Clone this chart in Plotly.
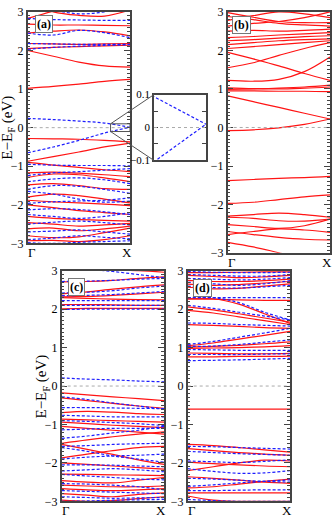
import plotly.graph_objects as go

# k-path sampling (Gamma -> X) used for every band below
K = [0.0, 0.25, 0.5, 0.75, 1.0]

# ---- panel (a) ----
A_red = [
    [3.25, 3.0, 2.91, 2.89, 3.05], [2.83, 3.02, 3.2, 3.3, 3.35],
    [2.68, 2.66, 2.66, 2.65, 2.64], [2.45, 2.5, 2.53, 2.48, 2.38],
    [2.18, 2.17, 2.16, 2.17, 2.18], [2.05, 2.08, 2.1, 2.12, 2.14],
    [2.0, 1.85, 1.7, 1.6, 1.57], [1.02, 1.07, 1.13, 1.2, 1.25],
    [-0.28, -0.29, -0.3, -0.33, -0.37], [-0.87, -0.75, -0.63, -0.5, -0.4],
    [-0.9, -0.97, -1.03, -1.09, -1.14], [-1.17, -1.15, -1.18, -1.22, -1.27],
    [-1.29, -1.2, -1.22, -1.3, -1.4], [-1.48, -1.45, -1.5, -1.58, -1.6],
    [-1.8, -1.72, -1.76, -1.85, -1.95], [-1.88, -1.92, -1.95, -1.98, -2.02],
    [-2.0, -2.07, -2.15, -2.2, -2.25], [-2.3, -2.35, -2.38, -2.4, -2.42],
    [-2.46, -2.5, -2.55, -2.52, -2.48], [-2.62, -2.6, -2.67, -2.62, -2.55],
    [-2.8, -2.85, -2.83, -2.72, -2.6], [-2.93, -2.92, -2.95, -2.9, -2.8],
]
A_blue = [
    [2.83, 2.8, 2.79, 2.78, 2.78], [3.2, 3.05, 2.95, 3.0, 3.15],
    [2.45, 2.4, 2.52, 2.46, 2.33], [2.18, 2.17, 2.16, 2.16, 2.16],
    [2.03, 2.08, 2.11, 2.13, 2.15],
    [-0.95, -0.97, -0.98, -0.98, -0.99], [-1.24, -1.17, -1.14, -1.1, -1.06],
    [-1.4, -1.33, -1.3, -1.35, -1.45], [-1.6, -1.5, -1.52, -1.6, -1.7],
    [-1.65, -1.72, -1.85, -1.93, -1.9], [-1.96, -1.92, -1.9, -1.88, -1.82],
    [-2.13, -2.1, -2.12, -2.18, -2.25], [-2.25, -2.3, -2.35, -2.3, -2.2],
    [-2.5, -2.45, -2.42, -2.46, -2.52], [-2.7, -2.68, -2.65, -2.7, -2.76],
    [-2.9, -2.86, -2.8, -2.84, -2.88], [-2.98, -3.0, -2.97, -2.95, -2.93],
]
A_blue_fermi = [[0.24, 0.21, 0.17, 0.12, 0.01], [-0.65, -0.5, -0.33, -0.14, 0.01]]

# ---- panel (b) ----
B_red = [
    [-0.08, -0.06, -0.01, 0.08, 0.22], [0.82, 0.67, 0.52, 0.37, 0.22],
    [0.95, 0.95, 0.94, 0.94, 0.93], [0.99, 1.0, 1.02, 1.05, 1.1],
    [1.03, 1.01, 1.0, 1.02, 1.05], [1.22, 1.2, 1.25, 1.45, 1.83],
    [1.95, 1.78, 1.6, 1.4, 1.22], [1.55, 1.68, 1.87, 2.05, 2.2],
    [2.05, 2.1, 2.15, 2.2, 2.25], [2.15, 2.2, 2.25, 2.28, 2.3],
    [2.25, 2.28, 2.32, 2.36, 2.38], [2.33, 2.36, 2.4, 2.43, 2.46],
    [2.5, 2.52, 2.5, 2.52, 2.55], [2.63, 2.7, 2.75, 2.85, 3.0],
    [2.88, 2.8, 2.7, 2.66, 2.63], [2.98, 2.86, 2.75, 2.72, 2.72],
    [2.78, 2.9, 3.0, 2.95, 2.85],
    [-1.38, -1.35, -1.32, -1.3, -1.27], [-1.97, -1.94, -1.87, -1.8, -1.75],
    [-2.3, -2.26, -2.22, -2.26, -2.33], [-2.33, -2.36, -2.42, -2.43, -2.38],
    [-2.52, -2.57, -2.62, -2.55, -2.38], [-2.78, -2.7, -2.63, -2.66, -2.72],
    [-2.7, -2.78, -2.85, -2.9, -2.92], [-2.98, -3.1, -3.25, -3.4, -3.5],
]

# ---- panel (c) ----
C_red = [
    [3.12, 3.08, 3.03, 3.0, 2.96], [2.71, 2.72, 2.75, 2.8, 2.84],
    [2.4, 2.45, 2.52, 2.58, 2.63], [2.32, 2.33, 2.36, 2.4, 2.44],
    [2.3, 2.28, 2.26, 2.25, 2.24], [2.12, 2.12, 2.11, 2.1, 2.1],
    [2.01, 2.02, 2.02, 2.02, 2.02],
    [-0.18, -0.23, -0.28, -0.33, -0.38], [-0.31, -0.38, -0.45, -0.52, -0.58],
    [-0.69, -0.66, -0.68, -0.72, -0.74], [-0.86, -0.88, -0.9, -0.92, -0.94],
    [-0.94, -0.98, -1.02, -1.05, -1.08], [-1.05, -1.1, -1.15, -1.2, -1.25],
    [-1.49, -1.4, -1.32, -1.25, -1.19], [-1.52, -1.65, -1.78, -1.92, -2.04],
    [-1.87, -1.77, -1.68, -1.6, -1.57], [-2.0, -2.04, -2.08, -2.12, -2.16],
    [-2.29, -2.3, -2.31, -2.32, -2.33], [-2.46, -2.5, -2.52, -2.45, -2.38],
    [-2.58, -2.6, -2.62, -2.62, -2.6], [-2.67, -2.7, -2.72, -2.7, -2.67],
    [-2.8, -2.84, -2.88, -2.82, -2.78], [-2.97, -3.0, -2.98, -2.93, -2.88],
]
C_blue = [
    [3.15, 3.05, 2.98, 2.9, 2.82], [2.72, 2.73, 2.75, 2.78, 2.8],
    [2.42, 2.44, 2.48, 2.55, 2.6], [2.35, 2.36, 2.38, 2.42, 2.46],
    [2.22, 2.22, 2.22, 2.22, 2.22], [2.1, 2.1, 2.1, 2.1, 2.1],
    [1.99, 2.0, 2.0, 2.0, 2.0], [0.21, 0.18, 0.16, 0.13, 0.11],
    [-0.28, -0.35, -0.44, -0.52, -0.6], [-0.56, -0.56, -0.57, -0.58, -0.59],
    [-0.76, -0.78, -0.8, -0.8, -0.8], [-0.9, -0.92, -0.95, -0.98, -1.03],
    [-1.14, -1.12, -1.1, -1.1, -1.1], [-1.36, -1.3, -1.22, -1.15, -1.05],
    [-1.57, -1.55, -1.52, -1.5, -1.49], [-1.6, -1.7, -1.82, -1.9, -1.98],
    [-1.9, -1.85, -1.82, -1.8, -1.77], [-2.05, -2.05, -2.06, -2.08, -2.1],
    [-2.21, -2.18, -2.15, -2.18, -2.23], [-2.3, -2.34, -2.38, -2.42, -2.44],
    [-2.54, -2.55, -2.58, -2.62, -2.7], [-2.72, -2.74, -2.76, -2.78, -2.8],
    [-2.88, -2.9, -2.92, -2.91, -2.9], [-3.0, -2.99, -2.97, -2.96, -2.95],
]

# ---- panel (d) ----
D_red = [
    [2.95, 2.95, 2.96, 2.97, 2.97], [2.88, 2.85, 2.82, 2.84, 2.88],
    [2.75, 2.72, 2.72, 2.74, 2.78], [2.65, 2.62, 2.64, 2.68, 2.72],
    [2.57, 2.53, 2.54, 2.6, 2.66], [2.27, 2.26, 2.24, 2.23, 2.23],
    [2.27, 2.27, 2.13, 1.88, 1.63], [2.06, 1.98, 1.88, 1.77, 1.66],
    [1.97, 1.9, 1.8, 1.7, 1.6], [1.6, 1.58, 1.55, 1.52, 1.5],
    [1.05, 1.12, 1.22, 1.32, 1.42], [1.01, 1.03, 1.06, 1.1, 1.15],
    [0.98, 0.99, 1.0, 1.02, 1.05], [0.86, 0.85, 0.84, 0.84, 0.85],
    [0.76, 0.76, 0.77, 0.77, 0.78], [-0.6, -0.6, -0.6, -0.6, -0.6],
    [-1.52, -1.55, -1.6, -1.66, -1.72], [-1.63, -1.68, -1.73, -1.77, -1.8],
    [-1.98, -2.02, -2.05, -2.08, -2.1], [-2.2, -2.1, -2.0, -1.93, -1.95],
    [-2.36, -2.4, -2.45, -2.5, -2.53], [-2.65, -2.62, -2.55, -2.48, -2.42],
    [-2.78, -2.78, -2.78, -2.78, -2.78], [-2.86, -2.97, -3.0, -3.0, -3.0],
]
D_blue = [
    [2.98, 2.96, 2.95, 2.95, 2.96], [2.9, 2.88, 2.86, 2.86, 2.9],
    [2.8, 2.78, 2.76, 2.78, 2.82], [2.7, 2.66, 2.62, 2.66, 2.74],
    [2.6, 2.56, 2.55, 2.58, 2.62], [2.3, 2.3, 2.3, 2.3, 2.3],
    [2.3, 2.3, 2.17, 1.92, 1.72], [2.1, 2.02, 1.92, 1.82, 1.72],
    [1.64, 1.63, 1.6, 1.58, 1.56], [1.08, 1.16, 1.27, 1.38, 1.5],
    [1.03, 1.04, 1.08, 1.14, 1.2], [0.95, 0.94, 0.93, 0.93, 0.93],
    [0.82, 0.82, 0.82, 0.83, 0.84], [0.66, 0.67, 0.68, 0.7, 0.72],
    [-1.57, -1.58, -1.6, -1.62, -1.64], [-1.7, -1.73, -1.76, -1.78, -1.8],
    [-1.95, -1.97, -1.99, -1.96, -1.92], [-2.15, -2.22, -2.27, -2.26, -2.2],
    [-2.4, -2.42, -2.45, -2.48, -2.5], [-2.61, -2.57, -2.52, -2.48, -2.44],
    [-2.72, -2.72, -2.71, -2.7, -2.7], [-2.95, -2.98, -3.0, -3.0, -3.0],
]

W, H = 332, 521
SERIF = "Liberation Serif"
RED = "rgb(255,20,20)"
BLUE = "rgb(30,30,255)"
FRAME = "#444"

# panel frames in pixels: (left, right, top, bottom)
frames = {
    "": (27.7, 130, 5, 243),
    "2": (227.7, 330, 5, 252.5),
    "3": (61.7, 164, 271, 508),
    "4": (187.7, 290, 271, 508),
    "5": (154, 206, 90, 157.7),
}
yranges = {"": [-3, 3], "2": [-3.25, 3], "3": [-3, 3], "4": [-3, 3], "5": [-0.1, 0.1]}
xranges = {"": [0, 1], "2": [0, 1], "3": [0, 1], "4": [0, 1], "5": [0.81, 1.0]}

fig = go.Figure()


def add_bands(bands, ax, color, dash, shape="spline"):
    for b in bands:
        fig.add_trace(go.Scatter(
            x=K, y=b, mode="lines", xaxis="x" + ax, yaxis="y" + ax,
            line=dict(color=color, width=1.2, dash=dash, shape=shape),
            hoverinfo="skip", showlegend=False))


add_bands(A_red, "", RED, "solid")
add_bands(A_blue + A_blue_fermi, "", BLUE, "3px,2px")
add_bands(B_red, "2", RED, "solid")
add_bands(C_red, "3", RED, "solid")
add_bands(C_blue, "3", BLUE, "3px,2px")
add_bands(D_red, "4", RED, "solid")
add_bands(D_blue, "4", BLUE, "3px,2px")
add_bands(A_blue_fermi, "5", BLUE, "3px,2px", shape="linear")

layout = {}
shapes = []
ann = []
for ax, (l, r, t, b) in frames.items():
    xdom = [l / W, r / W]
    ydom = [1 - b / H, 1 - t / H]
    inset = ax == "5"
    if inset:
        tv = [-0.1, 0, 0.1]
        tt = ["\u22120.1", "0", "0.1"]
        minor = dict(tickmode="linear", tick0=0, dtick=0.05, ticks="inside",
                     ticklen=4, tickcolor=FRAME, showgrid=False)
    else:
        tv = [-3.25 if ax == "2" else -3, -2, -1, 0, 1, 2, 3]
        tt = ["\u22123", "\u22122", "\u22121", "0", "1", "2", "3"]
        minor = dict(tickmode="linear", tick0=0, dtick=0.1, ticks="inside",
                     ticklen=3, tickcolor=FRAME, showgrid=False)
    layout["yaxis" + ax] = dict(
        domain=ydom, range=yranges[ax], anchor="x" + ax,
        tickmode="array", tickvals=tv, ticktext=tt,
        ticks="inside", ticklen=4 if inset else 6, tickcolor=FRAME,
        showline=True, linecolor=FRAME, linewidth=1.5, mirror="ticks",
        showgrid=False, zeroline=False, minor=minor,
        tickfont=dict(family=SERIF, size=11 if inset else 12, color="black"),
    )
    layout["xaxis" + ax] = dict(
        domain=xdom, range=xranges[ax], anchor="y" + ax,
        showline=True, linecolor=FRAME, linewidth=1.5, mirror=True,
        showgrid=False, zeroline=False, ticks="", showticklabels=False,
    )
    # Fermi level
    shapes.append(dict(type="line", xref="x" + ax, yref="y" + ax,
                       x0=xranges[ax][0], x1=xranges[ax][1], y0=0, y1=0,
                       line=dict(color="#aaa", width=1, dash="dot")))
    if not inset:
        # high-symmetry point labels just under the frame
        for lab, px_ in [("\u0393", l + 4), ("X", r - 3)]:
            ann.append(dict(text=lab, xref="paper", yref="paper",
                            x=px_ / W, y=1 - (b + 1) / H, xanchor="center", yanchor="top",
                            showarrow=False, borderpad=0,
                            font=dict(family=SERIF, size=13, color="black")))

# zoom box in (a) and connectors to the inset
l, r, t, b = frames[""]
zx0, zy0, zy1 = 0.81, -0.1, 0.1
bx = (l + zx0 * (r - l)) / W
by0 = 1 - (t + (3 - zy1) / 6 * (b - t)) / H
by1 = 1 - (t + (3 - zy0) / 6 * (b - t)) / H
shapes.append(dict(type="rect", xref="x", yref="y", x0=zx0, x1=1.0, y0=zy0, y1=zy1,
                   line=dict(color="#555", width=1)))
il, ir, it, ib = frames["5"]
shapes.append(dict(type="line", xref="paper", yref="paper", x0=bx, y0=by0,
                   x1=il / W, y1=1 - it / H, line=dict(color="#555", width=1)))
shapes.append(dict(type="line", xref="paper", yref="paper", x0=bx, y0=by1,
                   x1=il / W, y1=1 - ib / H, line=dict(color="#555", width=1)))

for lab, x0, y0 in [("(a)", 35, 8), ("(b)", 232, 9), ("(c)", 68, 278), ("(d)", 193, 279)]:
    ann.append(dict(text="<b>%s</b>" % lab, xref="paper", yref="paper",
                    x=x0 / W, y=1 - y0 / H, xanchor="left", yanchor="top",
                    showarrow=False, bgcolor="white", bordercolor="#777",
                    borderwidth=1, borderpad=1,
                    font=dict(family=SERIF, size=12, color="black")))
for x0, y0 in [(8, 124), (42, 390)]:
    ann.append(dict(text="E\u2212E<sub>F</sub> (eV)", xref="paper", yref="paper",
                    x=x0 / W, y=1 - y0 / H, xanchor="center", yanchor="middle",
                    textangle=-90, showarrow=False,
                    font=dict(family=SERIF, size=15, color="black")))

fig.update_layout(**layout)
fig.update_layout(
    width=W, height=H, margin=dict(l=0, r=0, t=0, b=0),
    plot_bgcolor="white", paper_bgcolor="white", showlegend=False,
    shapes=shapes, annotations=ann,
)
# drop the default page margin so the figure sits at the window origin
fig.write_html("out.html", config={"displayModeBar": False},
               post_script="document.body.style.margin='0';"
               "document.body.style.overflow='hidden';")
